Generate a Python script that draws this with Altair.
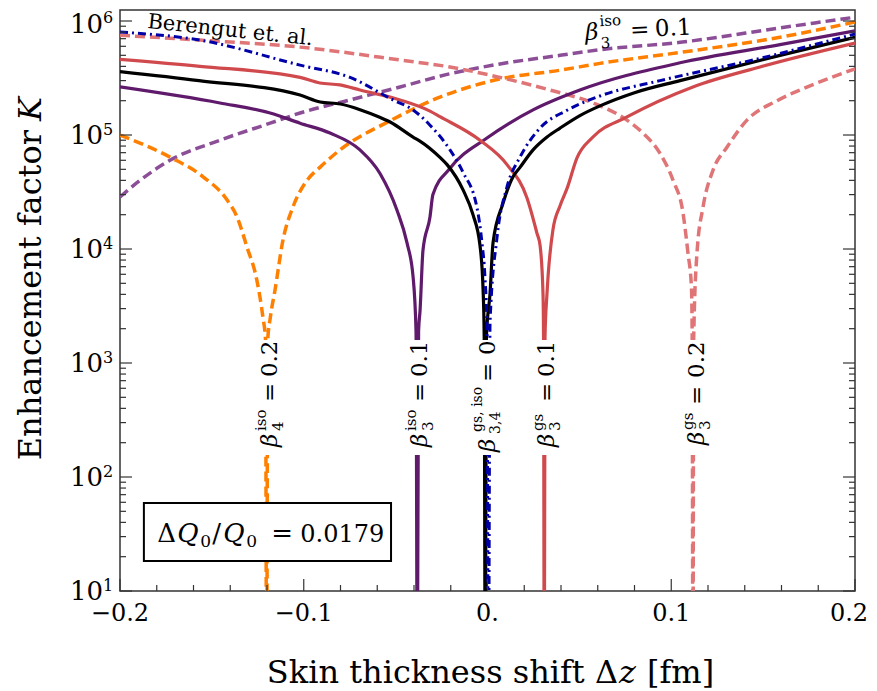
import altair as alt
import pandas as pd

FONT = "DejaVu Serif"
LEFT_ABS, TOP_ABS = 120, 10       # page position of the plot area
W, H = 735, 581

# ---------------- curve data (x = skin thickness shift [fm], K = enhancement factor) -------------
# black solid: beta_{3,4}^{gs,iso} = 0
bk_x = [-0.2, -0.157, -0.102, -0.091, -0.080, -0.069, -0.059, -0.053, -0.0405, -0.037, -0.026, -0.022,
        -0.0133, -0.0079, -0.0041, -0.0024, -0.0018, -0.0012, -0.0006, 0.0014, 0.0030, 0.0084, 0.0139,
        0.0177, 0.0248, 0.0324, 0.0395, 0.0503, 0.0612, 0.080, 0.1048, 0.1592, 0.2]
bk_k = [3.6e5, 3.0e5, 2.24e5, 1.95e5, 1.87e5, 1.66e5, 1.44e5, 1.30e5, 9.6e4, 8.9e4, 6.4e4, 5.5e4,
        3.3e4, 2.0e4, 1.08e4, 4.4e3, 1.7e3, 1, 1.7e3, 4.1e3, 1.13e4, 2.5e4, 4.3e4,
        5.2e4, 7.4e4, 9.6e4, 1.15e5, 1.48e5, 1.8e5, 2.35e5, 3.0e5, 5.0e5, 7.2e5]

# blue dash-dot: Berengut et. al.
bl_x = [-0.2, -0.1565, -0.102, -0.0748, -0.0514, -0.0405, -0.0313, -0.0204, -0.0133, -0.0057, -0.0030,
        -0.0014, -0.0003, 0.0005, 0.0014, 0.0052, 0.0106, 0.0177, 0.0286, 0.0433, 0.0612, 0.0939, 0.1483, 0.2]
bl_k = [8.0e5, 6.8e5, 4.1e5, 3.2e5, 2.03e5, 1.66e5, 1.22e5, 7.4e4, 4.7e4, 2.29e4, 1.13e4,
        5.7e3, 2.07e3, 1, 2.3e3, 1.27e4, 3.5e4, 6.4e4, 1.15e5, 1.65e5, 2.2e5, 3.0e5, 4.7e5, 7.7e5]

# purple solid: beta_3^iso = 0.1
ps_x = [-0.2, -0.1456, -0.1183, -0.102, -0.0857, -0.0694, -0.0585, -0.0493, -0.0438, -0.0405, -0.0389,
        -0.0382, -0.0375, -0.0367, -0.0351, -0.0313, -0.0297, -0.0204, -0.0003, 0.0248, 0.0503, 0.1048, 0.1592, 0.2]
ps_k = [2.64e5, 1.91e5, 1.56e5, 1.27e5, 1.04e5, 7.4e4, 4.6e4, 2.2e4, 1.13e4, 5.7e3, 1.9e3,
        1, 1.9e3, 2.9e3, 9.8e3, 1.91e4, 3.0e4, 5.1e4, 9.4e4, 1.66e5, 2.48e5, 4.3e5, 6.2e5, 8.2e5]

# red solid: beta_3^gs = 0.1
rs_x = [-0.2, -0.1565, -0.102, -0.0912, -0.0803, -0.0694, -0.0476, -0.0313, -0.0259, -0.0041, 0.0106,
        0.0215, 0.0269, 0.0286, 0.0302, 0.0305, 0.0309, 0.0313, 0.0324, 0.0356, 0.0395, 0.0433, 0.0487,
        0.0574, 0.0759, 0.1118, 0.1483, 0.2]
rs_k = [4.6e5, 4.0e5, 3.2e5, 2.86e5, 2.75e5, 2.48e5, 2.03e5, 1.62e5, 1.45e5, 9.0e4, 5.5e4,
        2.8e4, 1.38e4, 1.08e4, 4.1e3, 1.7e3, 1, 1.7e3, 4.1e3, 1.47e4, 2.4e4, 3.4e4, 6.3e4,
        9.6e4, 1.44e5, 2.64e5, 3.95e5, 6.4e5]

# orange dashed: beta_4^iso = 0.2
or_x = [-0.2, -0.1728, -0.1548, -0.1418, -0.1363, -0.1309, -0.1255, -0.1222, -0.1208, -0.1202, -0.1196,
        -0.1182, -0.1156, -0.1113, -0.1059, -0.0982, -0.0912, -0.0803, -0.0531, -0.0259, 0.0068, 0.0395,
        0.0612, 0.1048, 0.1592, 0.2]
or_k = [1.0e5, 6.4e4, 4.3e4, 2.7e4, 1.91e4, 1.04e4, 5.3e3, 2.5e3, 1.6e3, 1, 1.6e3,
        2.5e3, 4.4e3, 1.2e4, 2.33e4, 4.0e4, 5.2e4, 7.4e4, 1.33e5, 2.15e5, 3.1e5, 3.7e5,
        4.25e5, 5.3e5, 7.2e5, 9.8e5]

# purple dashed: beta_3^iso = 0.1 (top label)
pd_x = [-0.2, -0.1891, -0.1728, -0.1456, -0.1183, -0.102, -0.0748, -0.0476, -0.022, 0.0068, 0.0395,
        0.0612, 0.1048, 0.1592, 0.2]
pd_k = [2.86e4, 4.0e4, 6.0e4, 9.0e4, 1.27e5, 1.56e5, 2.03e5, 2.64e5, 3.4e5, 4.2e5, 5.0e5,
        5.6e5, 6.5e5, 8.7e5, 1.08e6]

# red dashed: beta_3^gs = 0.2
rd_x = [-0.2, -0.1565, -0.102, -0.0476, -0.0204, 0.0068, 0.034, 0.0574, 0.0759, 0.0846, 0.0939, 0.101,
        0.1064, 0.1091, 0.1110, 0.1114, 0.1118, 0.1122, 0.1140, 0.1173, 0.1227, 0.1303, 0.1412, 0.1576,
        0.1755, 0.2]
rd_k = [7.5e5, 6.8e5, 5.9e5, 4.55e5, 3.95e5, 3.2e5, 2.48e5, 1.91e5, 1.35e5, 1.04e5, 6.9e4, 4.0e4,
        2.07e4, 9.2e3, 4.6e3, 1.6e3, 1, 1.6e3, 9.2e3, 2.33e4, 4.9e4, 7.8e4, 1.35e5, 2.0e5,
        2.7e5, 3.8e5]

# ---------------- axis ticks -------------
y_major = [1e1, 1e2, 1e3, 1e4, 1e5, 1e6]
y_sup = ["1", "2", "3", "4", "5", "6"]
y_minor = [m * 10 ** e for e in range(1, 6) for m in range(2, 10)]
x_major = [-0.2, -0.1, 0.0, 0.1]
x_labels = ["\u22120.2", "\u22120.1", "0.", "0.1"]
x_last, x_last_label = 0.2, "0.2"
x_minor = [-0.18, -0.16, -0.14, -0.12, -0.08, -0.06, -0.04, -0.02,
           0.02, 0.04, 0.06, 0.08, 0.12, 0.14, 0.16, 0.18]

# ---------------- annotation positions -------------
lab_x = [-0.1203, -0.0382, -0.0005, 0.0309, 0.1117]
gap_lo, gap_hi = 156, 1590
box_x = [-0.187, -0.0525]
box_k = [18.3, 59.2]

xs = alt.Scale(domain=[-0.2, 0.2], nice=False, zero=False)
ys = alt.Scale(type="log", domain=[10, 1.249e6], nice=False)


def XQ(f="x"):
    return alt.X(f"{f}:Q", scale=xs, axis=None)


def YQ(f="K"):
    return alt.Y(f"{f}:Q", scale=ys, axis=None)


layers = []

curves = [
    (pd_x, pd_k, "#8c4f97", [10, 5], 3.5),
    (or_x, or_k, "#ff8000", [10, 5], 3.5),
    (rd_x, rd_k, "#e07577", [10, 5], 3.5),
    (ps_x, ps_k, "#5f1a6b", None, 3.2),
    (rs_x, rs_k, "#d04a4d", None, 3.2),
    (bk_x, bk_k, "#000000", None, 3.2),
    (bl_x, bl_k, "#0000a8", [8, 4, 2, 4], 3),
]
for xv, kv, col, dash, w in curves:
    kw = dict(color=col, strokeWidth=w, clip=True, interpolate="monotone")
    if dash:
        kw["strokeDash"] = dash
    layers.append(alt.Chart(pd.DataFrame({"x": xv, "K": kv})).mark_line(**kw)
                  .encode(x=XQ(), y=YQ()))

# white gaps behind the vertical labels
half = 0.006
gdf = pd.DataFrame({"x": [v - half for v in lab_x], "x2": [v + half for v in lab_x],
                    "K": [gap_lo] * len(lab_x), "K2": [gap_hi] * len(lab_x)})
layers.append(alt.Chart(gdf).mark_rect(color="white")
              .encode(x=XQ(), x2="x2:Q", y=YQ(), y2="K2:Q"))


def piece(x, k, text, dx, dy, size, italic=False, angle=0, align="left", baseline="middle"):
    kw = dict(text=text, dx=dx, dy=dy, fontSize=size, font=FONT, align=align,
              baseline=baseline, color="black")
    if italic:
        kw["fontStyle"] = "italic"
    if angle:
        kw["angle"] = angle
    return alt.Chart(pd.DataFrame({"x": [x], "K": [k]})).mark_text(**kw).encode(x=XQ(), y=YQ())


def ppiece(px, py, text, size, italic=False, angle=0, align="left", baseline="middle", dx=0, dy=0):
    """text placed at a page position (px, py), converted to plot-area pixels"""
    kw = dict(text=text, dx=dx, dy=dy, fontSize=size, font=FONT, align=align,
              baseline=baseline, color="black")
    if italic:
        kw["fontStyle"] = "italic"
    if angle:
        kw["angle"] = angle
    return alt.Chart(pd.DataFrame({"a": [0]})).mark_text(**kw).encode(
        x=alt.value(px - LEFT_ABS), y=alt.value(py - TOP_ABS))


def simple_label(x, k, sub, sup, val, m, d_scr=16, d_eq=45, d_val=70, angle=270, sub_dy=8, sup_dy=-9):
    return [
        piece(x, k, "\u03b2", 0, m, 23, italic=True, angle=angle),
        piece(x, k, sub, d_scr, m + sub_dy, 15, angle=angle),
        piece(x, k, sup, d_scr, m + sup_dy, 15, angle=angle),
        piece(x, k, "=", d_eq, m, 23, angle=angle),
        piece(x, k, val, d_val, m, 23, angle=angle),
    ]


layers += simple_label(lab_x[0], 183, "4", "iso", "0.2", 4)
layers += simple_label(lab_x[1], 183, "3", "iso", "0.1", 3)
layers += [
    piece(lab_x[2], 166, "\u03b2", 0, 1, 23, italic=True, angle=270),
    piece(lab_x[2], 166, "3,4", 18, 9, 14, angle=270),
    piece(lab_x[2], 166, "gs, iso", 20, -9, 14, angle=270),
    piece(lab_x[2], 166, "=", 70, 1, 23, angle=270),
    piece(lab_x[2], 166, "0", 97, 1, 23, angle=270),
]
layers += simple_label(lab_x[3], 183, "3", "gs", "0.1", 3)
layers += simple_label(lab_x[4], 191, "3", "gs", "0.2", 4, d_scr=15, d_eq=40, d_val=67)
# top label along purple dashed line
layers += simple_label(0.0531, 7.85e5, "3", "iso", "0.1", 0, d_scr=15, angle=357, sub_dy=11, sup_dy=-11)

# Berengut et. al.
layers.append(piece(-0.1853, 8.7e5, "Berengut et. al.", 0, 0, 21, angle=6, baseline="alphabetic"))

# box with Delta Q0/Q0
bdf = pd.DataFrame({"x": [box_x[0]], "x2": [box_x[1]], "K": [box_k[0]], "K2": [box_k[1]]})
layers.append(alt.Chart(bdf).mark_rect(fill="white", stroke="black", strokeWidth=2)
              .encode(x=XQ(), x2="x2:Q", y=YQ(), y2="K2:Q"))
bx0, bk0 = -0.1797, 26.9
layers += [
    piece(bx0, bk0, "\u0394", 0, 0, 26, baseline="alphabetic"),
    piece(bx0, bk0, "Q", 20, 0, 26, italic=True, baseline="alphabetic"),
    piece(bx0, bk0, "0", 43, 5, 17, baseline="alphabetic"),
    piece(bx0, bk0, "/", 55, 0, 26, baseline="alphabetic"),
    piece(bx0, bk0, "Q", 66, 0, 26, italic=True, baseline="alphabetic"),
    piece(bx0, bk0, "0", 89, 5, 17, baseline="alphabetic"),
    piece(bx0, bk0, "=", 114, 0, 26, baseline="alphabetic"),
    piece(bx0, bk0, "0.0179", 143, 0, 24, baseline="alphabetic"),
]

# ticks (inward)
TC = "#333333"
ymaj = pd.DataFrame({"K": y_major, "s": y_sup})
ymin = pd.DataFrame({"K": y_minor})
for df, ln in ((ymaj, 12), (ymin, 6)):
    layers.append(alt.Chart(df).mark_rule(color=TC, strokeWidth=1.2)
                  .encode(y=YQ(), x=alt.value(0), x2=alt.value(ln)))
    layers.append(alt.Chart(df).mark_rule(color=TC, strokeWidth=1.2)
                  .encode(y=YQ(), x=alt.value(W - ln), x2=alt.value(W)))
xmaj = pd.DataFrame({"x": x_major + [x_last], "lab": x_labels + [x_last_label]})
xmin = pd.DataFrame({"x": x_minor})
for df, ln in ((xmaj, 12), (xmin, 6)):
    layers.append(alt.Chart(df).mark_rule(color=TC, strokeWidth=1.2)
                  .encode(x=XQ(), y=alt.value(H - ln), y2=alt.value(H)))

# tick labels (the top one nudged down so it stays inside the page)
for sub_df, d_main, d_sup in ((ymaj.iloc[:-1], 1, -5), (ymaj.iloc[-1:], 4, -3)):
    layers.append(alt.Chart(sub_df).mark_text(text="10", font=FONT, fontSize=26, align="right",
                                              baseline="middle", dy=d_main, color="black")
                  .encode(y=YQ(), x=alt.value(-17)))
    layers.append(alt.Chart(sub_df).mark_text(font=FONT, fontSize=16, align="left",
                                              baseline="middle", dy=d_sup, color="black")
                  .encode(y=YQ(), x=alt.value(-17), text="s:N"))
layers.append(alt.Chart(xmaj.iloc[:-1]).mark_text(font=FONT, fontSize=24, align="center",
                                                  baseline="middle", color="black")
              .encode(x=XQ(), y=alt.value(H + 23), text="lab:N"))
layers.append(alt.Chart(xmaj.iloc[-1:]).mark_text(font=FONT, fontSize=24, align="center",
                                                  baseline="middle", color="black", dx=-6)
              .encode(x=XQ(), y=alt.value(H + 23), text="lab:N"))

# axis titles
layers.append(ppiece(31, 130, "Enhancement factor", 32, angle=270, align="right"))
layers.append(ppiece(31, 130, "K", 32, italic=True, angle=270, align="left", dx=9))
layers.append(ppiece(618, 683, "Skin thickness shift \u0394", 32, align="right", baseline="alphabetic"))
layers.append(ppiece(618, 683, "z", 32, italic=True, align="left", baseline="alphabetic", dx=1))
layers.append(ppiece(618, 683, "[fm]", 32, align="left", baseline="alphabetic", dx=29))

chart = alt.layer(*layers).properties(
    width=W, height=H,
    padding={"left": LEFT_ABS - 8, "top": TOP_ABS - 8, "right": 14, "bottom": 100},
    autosize=alt.AutoSizeParams(type="none"),
).configure_view(stroke="#333333", strokeWidth=1.5)

chart.save("out.html", embed_options={"renderer": "svg", "actions": False})
